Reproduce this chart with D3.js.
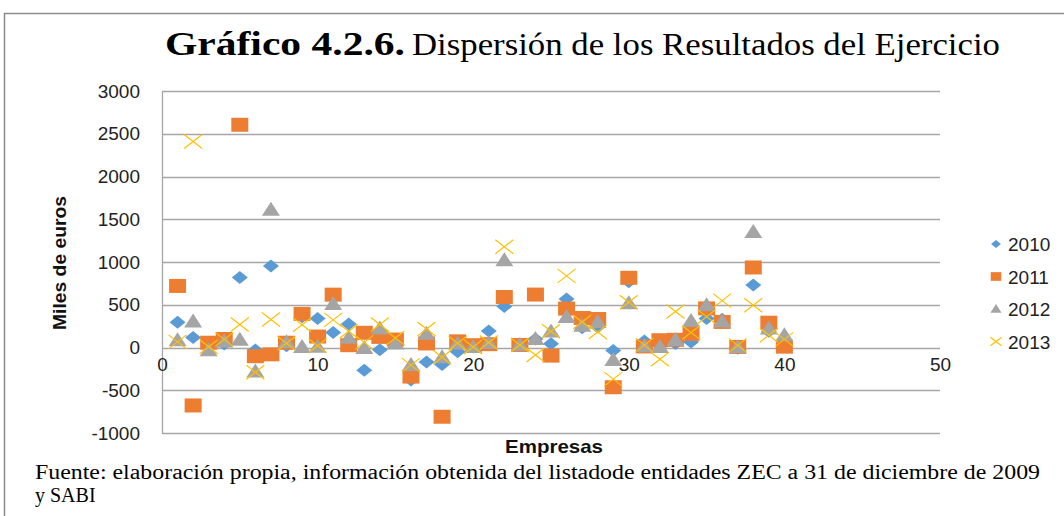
<!DOCTYPE html>
<html>
<head>
<meta charset="utf-8">
<script src="https://cdn.jsdelivr.net/npm/d3@7"></script>
<style>
  body { margin: 0; background: #fff; }
  svg { display: block; }
</style>
</head>
<body>
<svg id="chart" width="1064" height="516"></svg>
<script>
// company index 1..40
var empresas = d3.range(1, 41);

var v2010 = [295, 117, 50, 40, 818, -30, 953, 20, 360, 339, 175, 275, -265, -25, 80, -380, -170, -200, -50, 10,
             194, 480, 20, 100, 45, 568, 230, 241, -35, 770, 75, 20, 47, 65, 339, 330, -10, 730, 190, 50];
var v2011 = [720, -678, 56, 100, 2605, -102, -80, 56, 393, 128, 618, 27, 172, 124, 93, -340, 47, -810, 72, 27,
             39, 591, 30, 619, -95, 455, 345, 333, -465, 815, 12, 85, 90, 160, 457, 299, 7, 936, 290, 10];
var v2012 = [85, 305, -31, 70, 90, -280, 1610, 60, 7, 8, 510, 115, -5, 222, 47, -206, 160, -113, 47, 7,
             54, 1020, 30, 100, 188, 358, 255, 299, -145, 517, 15, 7, 88, 310, 494, 305, 3, 1350, 222, 144];
var v2013 = [66, 2410, 8, 95, 270, -290, 328, 50, 265, 20, 323, 190, 60, 270, 110, -206, 216, -113, 50, 7,
             58, 1178, 30, -88, 190, 838, 299, 182, -370, 530, 28, -138, 420, 175, 360, 548, 25, 494, 144, 95];

var seriesNames = ["2010", "2011", "2012", "2013"];
var yTicks = [-1000, -500, 0, 500, 1000, 1500, 2000, 2500, 3000];
var xTicks = [0, 10, 20, 30, 40, 50];

var series = [
  {name: "2010", values: v2010, color: "#5B9BD5", shape: "diamond"},
  {name: "2011", values: v2011, color: "#ED7D31", shape: "square"},
  {name: "2012", values: v2012, color: "#A5A5A5", shape: "triangle"},
  {name: "2013", values: v2013, color: "#FFC000", shape: "cross"}
];

var svg = d3.select("#chart");

// outer frame
svg.append("rect")
  .attr("x", 4.5).attr("y", 13.5)
  .attr("width", 1080).attr("height", 520)
  .attr("fill", "none").attr("stroke", "#8c8c8c").attr("stroke-width", 1.5);

var x = d3.scaleLinear().domain([0, 50]).range([162, 940]);
var y = d3.scaleLinear().domain([-1000, 3000]).range([433, 91]);

// gridlines
svg.append("g")
  .selectAll("line")
  .data(yTicks)
  .enter()
  .append("line")
  .attr("x1", x(0)).attr("x2", x(50))
  .attr("y1", function (d) { return Math.round(y(d)) + 0.5; })
  .attr("y2", function (d) { return Math.round(y(d)) + 0.5; })
  .attr("stroke", "#a6a6a6").attr("stroke-width", 1.3);

// y axis
var yAxis = d3.axisLeft(y).tickValues(yTicks).tickSize(0).tickPadding(22)
  .tickFormat(function (d) { return String(d); });
var gy = svg.append("g").attr("transform", "translate(" + x(0) + ",0)").call(yAxis);
gy.select(".domain").attr("stroke", "#a6a6a6").attr("stroke-width", 1.3);
gy.selectAll("text")
  .attr("font-family", "Liberation Sans, Arial, sans-serif")
  .attr("font-size", 19).attr("fill", "#222");

// x axis at zero
var xAxis = d3.axisBottom(x).tickValues(xTicks).tickSize(0).tickPadding(9)
  .tickFormat(function (d) { return String(d); });
var gx = svg.append("g").attr("transform", "translate(0," + (Math.round(y(0)) + 0.5) + ")").call(xAxis);
gx.select(".domain").remove();
gx.selectAll("text")
  .attr("font-family", "Liberation Sans, Arial, sans-serif")
  .attr("font-size", 19).attr("fill", "#222");

function markerPath(shape, s) {
  // s = scale factor
  if (shape === "diamond") return "M0," + (-6.5 * s) + "L" + (8 * s) + ",0L0," + (6.5 * s) + "L" + (-8 * s) + ",0Z";
  if (shape === "square") return "M" + (-8.5 * s) + "," + (-7 * s) + "h" + (17 * s) + "v" + (14 * s) + "h" + (-17 * s) + "Z";
  if (shape === "triangle") return "M0," + (-8 * s) + "L" + (9 * s) + "," + (6 * s) + "L" + (-9 * s) + "," + (6 * s) + "Z";
  return "M" + (-9 * s) + "," + (-7 * s) + "L" + (9 * s) + "," + (7 * s) + "M" + (9 * s) + "," + (-7 * s) + "L" + (-9 * s) + "," + (7 * s);
}

series.forEach(function (s) {
  svg.append("g")
    .selectAll("path")
    .data(s.values)
    .enter()
    .append("path")
    .attr("transform", function (d, i) { return "translate(" + x(empresas[i]) + "," + y(d) + ")"; })
    .attr("d", markerPath(s.shape, 1))
    .attr("fill", s.shape === "cross" ? "none" : s.color)
    .attr("stroke", s.shape === "cross" ? s.color : "none")
    .attr("stroke-width", 1.2);
});

// legend
var legend = svg.append("g");
series.forEach(function (s, i) {
  var ly = 244 + i * 32.5;
  legend.append("path")
    .attr("transform", "translate(996," + ly + ")")
    .attr("d", markerPath(s.shape, 0.62))
    .attr("fill", s.shape === "cross" ? "none" : s.color)
    .attr("stroke", s.shape === "cross" ? s.color : "none")
    .attr("stroke-width", 1.2);
  legend.append("text")
    .attr("x", 1008).attr("y", ly + 7)
    .attr("font-family", "Liberation Sans, Arial, sans-serif")
    .attr("font-size", 19).attr("fill", "#222")
    .text(seriesNames[i]);
});

// axis titles
svg.append("text")
  .attr("transform", "translate(66,263) rotate(-90)")
  .attr("text-anchor", "middle")
  .attr("font-family", "Liberation Sans, Arial, sans-serif")
  .attr("font-weight", "bold").attr("font-size", 19).attr("fill", "#111")
  .attr("textLength", 134).attr("lengthAdjust", "spacingAndGlyphs")
  .text("Miles de euros");

svg.append("text")
  .attr("x", 554).attr("y", 453)
  .attr("text-anchor", "middle")
  .attr("font-family", "Liberation Sans, Arial, sans-serif")
  .attr("font-weight", "bold").attr("font-size", 19).attr("fill", "#111")
  .attr("textLength", 98).attr("lengthAdjust", "spacingAndGlyphs")
  .text("Empresas");

// title
svg.append("text")
  .attr("x", 165).attr("y", 55)
  .attr("font-family", "Liberation Serif, Times New Roman, serif")
  .attr("font-weight", "bold").attr("font-size", 33).attr("fill", "#000")
  .attr("textLength", 240).attr("lengthAdjust", "spacingAndGlyphs")
  .text("Gráfico 4.2.6.");
svg.append("text")
  .attr("x", 412).attr("y", 55)
  .attr("font-family", "Liberation Serif, Times New Roman, serif")
  .attr("font-size", 31).attr("fill", "#000")
  .attr("textLength", 588).attr("lengthAdjust", "spacingAndGlyphs")
  .text("Dispersión de los Resultados del Ejercicio");

// source note
svg.append("text")
  .attr("x", 35).attr("y", 479)
  .attr("font-family", "Liberation Serif, Times New Roman, serif")
  .attr("font-size", 20).attr("fill", "#000")
  .attr("textLength", 1005).attr("lengthAdjust", "spacingAndGlyphs")
  .text("Fuente: elaboración propia, información obtenida del listadode entidades ZEC a 31 de diciembre de 2009");
svg.append("text")
  .attr("x", 35).attr("y", 502)
  .attr("font-family", "Liberation Serif, Times New Roman, serif")
  .attr("font-size", 20).attr("fill", "#000")
  .text("y SABI");
</script>
</body>
</html>
